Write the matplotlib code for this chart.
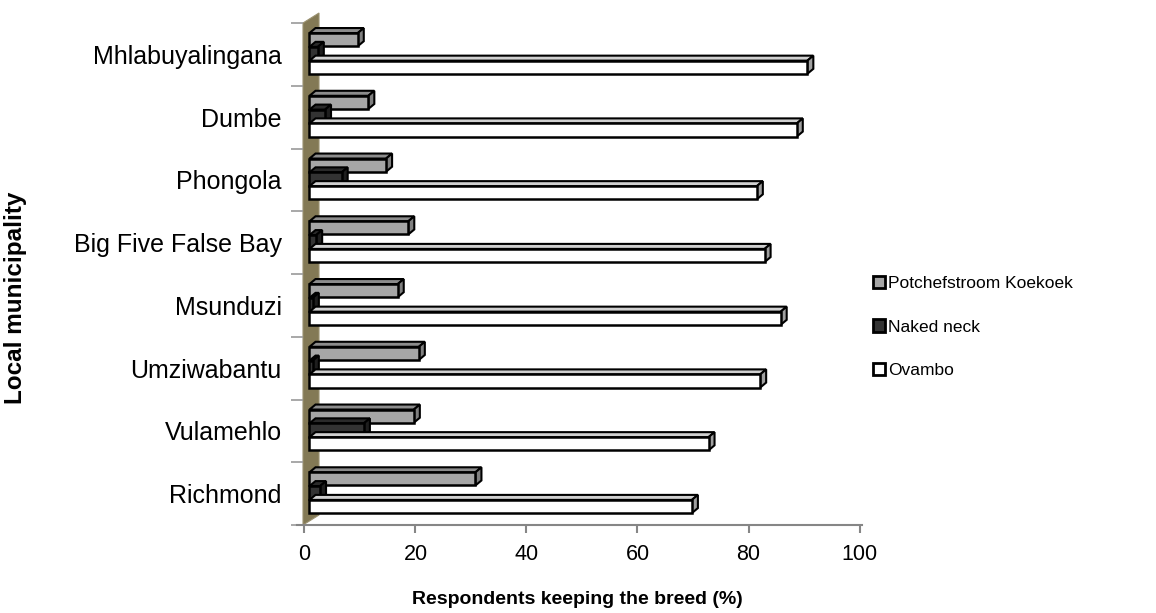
import matplotlib
matplotlib.use("Agg")
import matplotlib.pyplot as plt
from matplotlib.patches import Polygon, Patch
from matplotlib.transforms import ScaledTranslation

municipalities = ["Mhlabuyalingana", "Dumbe", "Phongola", "Big Five False Bay",
                  "Msunduzi", "Umziwabantu", "Vulamehlo", "Richmond"]
potchefstroom = [8.7, 10.6, 13.8, 17.8, 15.9, 19.7, 18.8, 29.9]
naked_neck = [1.5, 2.8, 5.8, 1.2, 0.6, 0.6, 9.8, 1.9]
ovambo = [89.7, 87.8, 80.6, 82.0, 84.9, 81.2, 71.9, 68.9]
series_names = ["Potchefstroom Koekoek", "Naked neck", "Ovambo"]
x_ticks = [0, 20, 40, 60, 80, 100]

plt.rcParams['font.family'] = ['Liberation Sans', 'DejaVu Sans']

W, H = 1156, 613
fig = plt.figure(figsize=(W / 100, H / 100), dpi=100)
fig.patch.set_facecolor('white')

# plot box in pixels
ax_l, ax_r, ax_t, ax_b = 297, 862, 23, 525
ax = fig.add_axes([ax_l / W, 1 - ax_b / H, (ax_r - ax_l) / W, (ax_b - ax_t) / H])
xmin, xmax = -1.35, 100.45
n = len(municipalities)
ax.set_xlim(xmin, xmax)
ax.set_ylim(n - 0.5, -0.5)
ax.patch.set_alpha(0)

px_x = (ax_r - ax_l) / (xmax - xmin)   # pixels per percent
px_y = (ax_b - ax_t) / n               # pixels per category

# back wall of the 3-D box
wall_x0 = xmin + 6 / px_x
wall_w = 16 / px_x
wall_dy = 10 / px_y
wall = Polygon([(wall_x0, -0.5), (wall_x0 + wall_w, -0.5 - wall_dy),
                (wall_x0 + wall_w, n - 0.5 - wall_dy), (wall_x0, n - 0.5)],
               closed=True, facecolor='#837955', edgecolor='#9a9170', lw=0.8,
               zorder=1, clip_on=False)
ax.add_patch(wall)

# bars sit slightly behind the front plane
bar_tr = ax.transData + ScaledTranslation(5 / 100, 0, fig.dpi_scale_trans)
depth_dx = 6 / px_x
depth_dy = 5 / px_y

series = [potchefstroom, naked_neck, ovambo]
offsets = [-0.235, -0.015, 0.205]
bar_h = 0.21
fronts = ['#a6a6a6', '#333333', '#ffffff']
tops = ['#8c8c8c', '#2a2a2a', '#d0d0d0']
sides = ['#808080', '#1e1e1e', '#a0a0a0']
ys = list(range(n))

for s, vals in enumerate(series):
    z = 2 + s
    pos = [y + offsets[s] for y in ys]
    ax.barh(pos, vals, height=bar_h, color=fronts[s], edgecolor='black',
            linewidth=1.8, transform=bar_tr, zorder=z + 0.2)
    for yc, v in zip(pos, vals):
        yt, yb = yc - bar_h / 2, yc + bar_h / 2
        top = Polygon([(0, yt), (v, yt), (v + depth_dx, yt - depth_dy),
                       (depth_dx, yt - depth_dy)], closed=True,
                      facecolor=tops[s], edgecolor='black', lw=1.5,
                      transform=bar_tr, zorder=z)
        side = Polygon([(v, yt), (v + depth_dx, yt - depth_dy),
                        (v + depth_dx, yb - depth_dy), (v, yb)], closed=True,
                       facecolor=sides[s], edgecolor='black', lw=1.5,
                       transform=bar_tr, zorder=z + 0.1)
        ax.add_patch(top)
        ax.add_patch(side)

# axes styling
for sp in ['top', 'right', 'left']:
    ax.spines[sp].set_visible(False)
ax.spines['bottom'].set_color('#868686')
ax.spines['bottom'].set_linewidth(1.5)

ax.set_xticks(x_ticks)
ax.set_xticklabels([str(t) for t in x_ticks])
ax.tick_params(axis='x', direction='out', length=6, width=1.5, color='#868686',
               labelsize=15.5, pad=8)

ax.set_yticks(ys)
ax.set_yticklabels(municipalities)
ax.set_yticks([y - 0.5 for y in range(n + 1)], minor=True)
ax.tick_params(axis='y', which='major', length=0, labelsize=18, pad=11)
ax.tick_params(axis='y', which='minor', direction='inout', length=9, width=1.2,
               color='#9a9a9a')

fig.text(16 / W, 1 - 298 / H, "Local municipality", rotation=90, ha='center',
         va='center', fontsize=17.5, fontweight='bold')
fig.text(577 / W, 1 - 599 / H, "Respondents keeping the breed (%)", ha='center',
         va='center', fontsize=14, fontweight='bold')

handles = [Patch(facecolor=fronts[i], edgecolor='black', linewidth=2,
                 label=series_names[i]) for i in range(3)]
fig.legend(handles=handles, loc='center left',
           bbox_to_anchor=(866 / W, 1 - 327 / H), frameon=False, fontsize=12.5,
           handlelength=0.7, handleheight=0.7, handletextpad=0.15,
           labelspacing=1.65, borderaxespad=0)

fig.savefig("out.png", dpi=100, facecolor='white')
